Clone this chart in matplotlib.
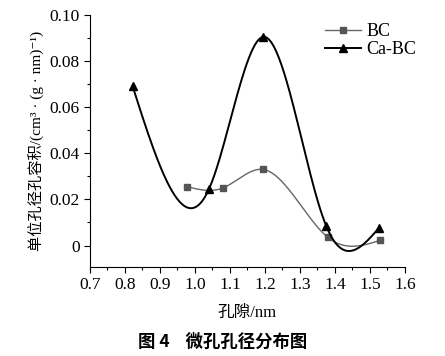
import numpy as np
import matplotlib
matplotlib.use("Agg")
import matplotlib.pyplot as plt
from matplotlib.ticker import MultipleLocator

bc_x = [0.978, 1.080, 1.195, 1.380, 1.528]
bc_y = [0.0255, 0.0250, 0.0330, 0.0035, 0.0022]
ca_x = [0.822, 1.040, 1.195, 1.375, 1.525]
ca_y = [0.0690, 0.0245, 0.0905, 0.0085, 0.0075]
x_ticks = [0.7, 0.8, 0.9, 1.0, 1.1, 1.2, 1.3, 1.4, 1.5, 1.6]
y_ticks = [0, 0.02, 0.04, 0.06, 0.08, 0.10]
y_labels = ["0", "0.02", "0.04", "0.06", "0.08", "0.10"]


def natural_spline(x, y, n=300):
    x = np.asarray(x, float); y = np.asarray(y, float)
    k = len(x); h = np.diff(x)
    A = np.zeros((k, k)); b = np.zeros(k)
    A[0, 0] = A[-1, -1] = 1
    for i in range(1, k - 1):
        A[i, i - 1] = h[i - 1]; A[i, i] = 2 * (h[i - 1] + h[i]); A[i, i + 1] = h[i]
        b[i] = 3 * ((y[i + 1] - y[i]) / h[i] - (y[i] - y[i - 1]) / h[i - 1])
    c = np.linalg.solve(A, b)
    xs = np.linspace(x[0], x[-1], n)
    idx = np.clip(np.searchsorted(x, xs) - 1, 0, k - 2)
    dx = xs - x[idx]
    bb = (y[1:] - y[:-1]) / h - h * (2 * c[:-1] + c[1:]) / 3
    d = (c[1:] - c[:-1]) / (3 * h)
    ys = y[idx] + bb[idx] * dx + c[idx] * dx ** 2 + d[idx] * dx ** 3
    return xs, ys

serif = ["Liberation Serif", "Noto Sans CJK SC", "DejaVu Sans"]
cjk = ["Noto Sans CJK SC", "Liberation Serif"]
plt.rcParams['font.family'] = serif

fig = plt.figure(figsize=(4.45, 3.56), dpi=100)
ax = fig.add_axes([0.2022, 0.25, 0.7078, 0.708])

sx, sy = natural_spline(bc_x, bc_y)
ax.plot(sx, sy, color="#666666", lw=1.0)
ax.plot(bc_x, bc_y, ls="none", marker="s", ms=5, color="#555555")
tx, ty = natural_spline(ca_x, ca_y)
ax.plot(tx, ty, color="black", lw=1.4)
ax.plot(ca_x, ca_y, ls="none", marker="^", ms=6, color="black")

# legend proxies
ax.plot([], [], color="#666666", lw=1.0, marker="s", ms=5, mfc="#555555", mec="#555555", label="BC")
ax.plot([], [], color="black", lw=1.4, marker="^", ms=6, label="Ca-BC")
handles, labels = ax.get_legend_handles_labels()
ax.legend(handles[-2:], labels[-2:], loc="upper right", bbox_to_anchor=(1.07, 1.01), frameon=False,
          fontsize=13, handlelength=2.0, handletextpad=0.3, borderaxespad=0.2, labelspacing=0.05)

ax.set_xlim(0.7, 1.6)
ax.set_ylim(-0.0093, 0.10)
ax.set_xticks(x_ticks)
ax.set_xticklabels([f"{v:.1f}" for v in x_ticks])
ax.set_yticks(y_ticks)
ax.set_yticklabels(y_labels)
ax.xaxis.set_minor_locator(MultipleLocator(0.05))
ax.yaxis.set_minor_locator(MultipleLocator(0.01))
ax.spines['top'].set_visible(False)
ax.spines['right'].set_visible(False)
ax.spines['bottom'].set_bounds(0.7, 1.6)
ax.spines['left'].set_bounds(-0.0093, 0.10)
ax.tick_params(which="major", direction="out", length=4, labelsize=12.5, width=0.8)
ax.tick_params(which="minor", direction="out", length=2, width=0.8)

ax.set_xlabel("孔隙/nm", fontsize=12, family=serif, labelpad=8)
ax.set_ylabel("单位孔径孔容积/(cm³ · (g · nm)⁻¹)", fontsize=11, family=serif, labelpad=3)

fig.text(0.5, 0.04, "图 4    微孔孔径分布图", ha="center", va="center", fontsize=12.5,
         fontweight="bold", family=cjk)

fig.savefig("out.png", dpi=100)
